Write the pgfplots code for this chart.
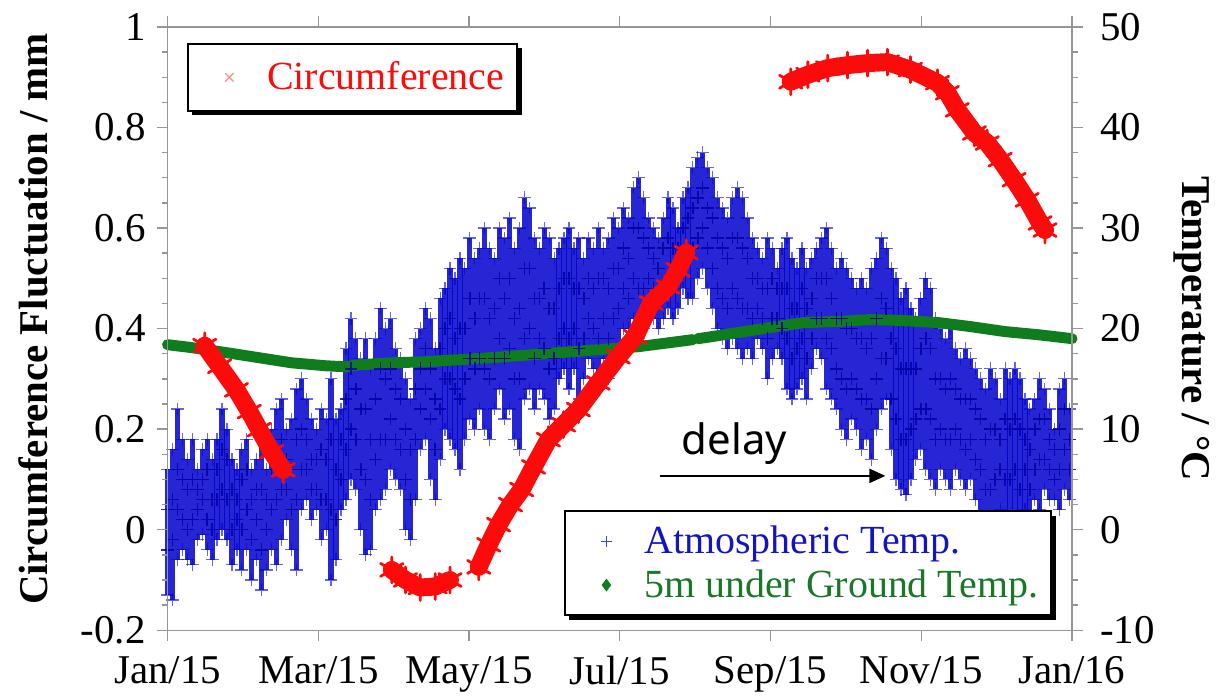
\documentclass[border=0pt]{standalone}
\usepackage{pgfplots}
\usepackage{pgfplotstable}
\pgfplotsset{compat=1.18}
\usepackage{fontspec}
\setmainfont{Liberation Serif}
\newfontfamily\delayfont{Noto Sans}
\usetikzlibrary{shadows,arrows.meta}
\definecolor{atmblue}{RGB}{0,0,205}
\definecolor{atmdark}{RGB}{0,0,165}
\definecolor{gndgreen}{RGB}{15,125,30}
\definecolor{legblue}{RGB}{20,20,195}
\definecolor{leggreen}{RGB}{25,120,40}
\definecolor{axgray}{RGB}{150,150,150}
\definecolor{cred}{RGB}{255,10,10}

% atmospheric temperature: day, low, two typical values, high (deg C)
\pgfplotstableread{
d lo m1 m2 hi
0 -6.5 -2 2 6
2 -7 -1 3 8
4 -3 2 6 12
6 -2 1 5 9
8 -3 0 4 7
10 -3.5 1 5 9
12 -1 2 4 6
14 -0.5 3 5 8
16 -2 1 6 9
18 -3 0 3 7
20 -1 3 6 9
22 0 4 8 12
24 -1 3 7 10
26 -3.5 0 4 7
28 -2 1 3 6
30 -4 0 5 8
32 -2 2 6 9
34 -5 -1 3 6
36 -3 1 4 7
38 -6 -2 4 9
40 -4 0 3 6
42 -2 2 6 10
44 -3.5 3 7 12
46 -1 4 9 13
48 1 4 7 10
50 -2 2 6 11
52 -4 3 9 14
54 2 6 10 15
56 3 6 9 13
58 1 4 7 11
60 2 4 7 10
62 -1 3 8 12
64 0 3 7 11
66 -5 2 9 15
68 -3 1 6 11
70 2 5 9 12
72 3 8 13 18
74 5 10 16 21
76 4 9 14 19
78 0 6 12 17
80 -2.5 5 12 19
82 -2 3 9 16
84 2 7 13 19
86 3 9 16 22
88 4 9 15 20
90 6 11 16 21
92 5 9 14 18
94 4 8 13 17
96 0 5 10 15
98 -1 3 8 13
100 3 9 14 19
102 8 12 16 20
104 9 14 18 22
106 5 11 16 21
108 3 8 13 18
110 7 12 18 23
112 10 15 20 24
114 9 15 21 26
116 8 14 19 25
118 6 13 20 27
120 9 15 20 26
122 11 17 23 29
124 10 16 21 27
126 12 17 23 28
128 10 16 23 30
130 9 15 21 28
132 12 17 22 27
134 14 19 25 30
136 11 17 23 29
138 12 18 25 31
140 9 15 21 28
142 8 15 22 30
144 13 19 26 33
146 14 20 26 32
148 12 17 23 29
150 14 19 23 28
152 13 18 24 30
154 11 16 22 29
156 12 17 22 27
158 15 19 24 28
160 16 20 25 29
162 14 19 25 30
164 16 20 24 28
166 13 18 24 29
168 15 19 23 27
170 17 21 25 29
172 16 20 24 28
174 14 19 25 30
176 17 21 25 28
178 15 19 24 29
180 17 21 26 31
182 18 22 26 30
184 20 24 28 32
186 20 23 27 31
188 21 25 30 34
190 19 24 30 35
192 20 24 29 33
194 22 25 28 31
196 21 24 27 30
198 20 23 26 29
200 21 24 28 31
202 22 25 29 33
204 21 25 28 32
206 22 25 28 30
208 24 27 30 33
210 23 27 31 34
212 23 28 32 36
214 25 29 33 37
216 26 30 34 37.5
218 24 28 32 36
220 22 26 31 35
222 20 24 29 33
224 19 23 28 32
226 18 22 27 31
228 19 24 29 33
230 18 23 29 34
232 17 22 28 33
234 18 22 27 31
236 17 21 25 29
238 19 22 25 28
240 18 21 24 27
242 15 19 24 29
244 17 21 25 28
246 18 21 24 26
248 17 20 24 28
250 14 19 24 29
252 13 17 22 27
254 14 18 22 26
256 15 19 24 28
258 13 17 22 26
260 16 19 23 27
262 18 21 25 28
264 17 21 25 29
266 14 19 25 30
268 13 18 23 28
270 12 16 21 26
272 10 15 21 27
274 9 14 20 26
276 11 15 20 25
278 10 14 19 24
280 8 13 19 25
282 9 13 18 24
284 7 12 19 26
286 10 15 21 27
288 12 17 23 29
290 13 17 22 28
292 8 13 19 26
294 5 11 18 25
296 4 9 16 23
298 3.5 9 16 24
300 5 10 16 22
302 7 11 16 21
304 8 12 18 23
306 6 12 19 25
308 5 11 18 24
310 4 9 15 21
312 6 10 15 20
314 5 9 14 19
316 4 9 15 20
318 6 10 14 18
320 5 9 13 17
322 4 8 13 18
324 5 9 13 17
326 3 7 12 16
328 1 6 11 15
330 -1 4 9 14
332 -2 4 10 16
334 0 5 10 15
336 2 6 9 13
338 -1 5 11 16
340 0 5 10 15
342 1 6 11 16
344 -1 4 10 15
346 2 6 9 13
348 0 4 8 12
350 3 6 10 13
352 2 7 11 15
354 4 7 11 14
356 3 6 9 12
358 3 5 8 10
360 2 6 10 14
362 4 8 12 15
364 3 6 9 12
}\atmtable

% 5 m under ground temperature (deg C)
\pgfplotstableread{
d T
0 18.4
10 18.1
24 17.6
37 17.1
50 16.6
64 16.3
72 16.2
77 16.4
91 16.6
104 16.7
124 17.0
136 17.2
163 17.7
190 18.2
212 18.9
213 nan
214 19.0
217 19.1
230 19.6
238 19.9
243 20.1
257 20.6
270 20.7
284 20.9
297 20.8
311 20.6
324 20.2
338 19.7
351 19.4
365 19.0
}\gndtable

% circumference fluctuation (mm)
\pgfplotstableread{
d v
15 0.366
21 0.325
27.8 0.278
33 0.235
37 0.199
42 0.155
46.7 0.119
}\circA
\pgfplotstableread{
d v
90.5 -0.080
96 -0.100
102 -0.115
108 -0.113
114 -0.100
}\circB
\pgfplotstableread{
d v
125.6 -0.074
129.6 -0.030
133.6 0.010
138.4 0.050
142.9 0.080
147.7 0.125
153.7 0.179
159.8 0.209
165.8 0.239
173.8 0.292
181.9 0.344
188.7 0.384
195.2 0.451
202 0.483
206 0.517
209.3 0.551
}\circC
\pgfplotstableread{
d v
251.5 0.891
258.4 0.905
266.4 0.918
274.4 0.924
282.5 0.928
290.5 0.930
299.8 0.915
310.7 0.889
314.7 0.869
318.7 0.835
325.6 0.789
330.8 0.769
336 0.736
341.6 0.696
346.9 0.656
352.1 0.610
354.1 0.596
}\circD

\pgfplotsset{
  common/.style={
    scale only axis, width=453.5pt, height=302.5pt,
    xmin=0, xmax=365,
    axis line style={axgray, line width=0.7pt},
    tick style={axgray, line width=0.7pt},
    tick align=outside,
    major tick length=5.5pt, minor tick length=3pt,
    ticklabel style={font=\fontsize{20.5}{23}\selectfont},
    clip=false,
  },
  circ/.style={forget plot, cred, line width=9pt, line cap=round, line join=round,
    mark=asterisk, mark size=6.5pt, mark options={cred, line width=1.4pt}},
  spacedmark/.style={legend image code/.code={%
    \path (-16pt,0pt) (16.5pt,0pt);
    \draw[mark repeat=2,mark phase=2,##1] plot coordinates {(-1pt,0pt) (0pt,0pt) (1pt,0pt)};}},
  boxlegend/.style={draw=black, line width=1pt, fill=white,
    drop shadow={shadow xshift=2.2pt, shadow yshift=-2.2pt, fill=black, opacity=1},
    font=\fontsize{20}{23}\selectfont, cells={anchor=west}, inner xsep=4.5pt},
}

\begin{document}
\begin{tikzpicture}
\begin{axis}[common, name=ax,
  ymin=-10, ymax=50,
  xtick={0,60.8333,121.6667,182.5,243.3333,304.1667,365},
  xticklabels={Jan/15,Mar/15,May/15,Jul/15,Sep/15,Nov/15,Jan/16},
  minor x tick num=3,
  xtick pos=both, xticklabel pos=lower,
  xticklabel style={yshift=-4pt},
  ytick={-10,0,10,20,30,40,50},
  yticklabels={-10,0,10,20,30,40,50},
  yticklabel style={xshift=5pt},
  minor y tick num=3,
  ytick pos=right, yticklabel pos=right,
  ylabel={Temperature / °C},
  ylabel style={at={(axis description cs:1.132,0.50)}, anchor=center, rotate=180,
    font=\bfseries\fontsize{20.5}{24}\selectfont},
  legend style={at={(0.978,0.023)}, anchor=south east, boxlegend,
    inner ysep=5.5pt, row sep=2.5pt},
  legend cell align=left,
]
% atmospheric temperature: daily range bars with typical values
\addplot[forget plot, only marks, mark=+, mark size=3.2pt,
  mark options={atmdark, opacity=0.85, line width=0.7pt},
  error bars/.cd, y dir=both, y explicit,
  error bar style={atmblue, opacity=0.85, line width=2.6pt},
  error mark=+, error mark options={atmblue, opacity=0.6, mark size=3.2pt, line width=0.6pt}]
  table[x=d, y=m1, y error plus expr=\thisrow{hi}-\thisrow{m1}, y error minus expr=\thisrow{m1}-\thisrow{lo}] {\atmtable};
\addplot[forget plot, only marks, mark=+, mark size=3.2pt,
  mark options={atmdark, opacity=0.85, line width=0.7pt}]
  table[x=d, y=m2] {\atmtable};
% ground temperature
\addplot[forget plot, gndgreen, line width=5.5pt, line cap=round, line join=round,
  unbounded coords=jump]
  table[x=d, y=T] {\gndtable};
\addlegendimage{spacedmark, only marks, mark=+, mark size=2.6pt, mark options={atmblue!75, line width=0.4pt}}
\addlegendentry[text=legblue]{Atmospheric Temp.}
\addlegendimage{spacedmark, only marks, mark=diamond*, mark size=2.4pt, mark options={gndgreen}}
\addlegendentry[text=leggreen]{5m under Ground Temp.}
\end{axis}

\begin{axis}[common, at={(ax.south west)}, anchor=south west,
  ymin=-0.2, ymax=1,
  xtick=\empty,
  ytick={-0.2,0,0.2,0.4,0.6,0.8,1},
  yticklabels={-0.2,0,0.2,0.4,0.6,0.8,1},
  yticklabel style={xshift=-2pt},
  minor y tick num=3,
  ytick pos=left,
  ylabel={Circumference Fluctuation / mm},
  ylabel style={at={(axis description cs:-0.148,0.516)}, anchor=center,
    font=\bfseries\fontsize{20.5}{24}\selectfont},
  legend style={at={(0.021,0.9736)}, anchor=north west, boxlegend, inner ysep=7pt},
]
\addplot[circ] table[x=d, y=v] {\circA};
\addplot[circ] table[x=d, y=v] {\circB};
\addplot[circ] table[x=d, y=v] {\circC};
\addplot[circ] table[x=d, y=v] {\circD};
\addlegendimage{spacedmark, only marks, mark=x, mark size=3pt, mark options={red!45, line width=0.6pt}}
\addlegendentry[text=cred]{Circumference}
\node[font=\delayfont\fontsize{21}{25}\selectfont, anchor=base] at (axis cs:228.8,0.149) {delay};
\draw[black, line width=1.1pt, -{Triangle[length=8pt, width=7pt]}] (axis cs:198.8,0.107) -- (axis cs:289.7,0.107);
\end{axis}
\path (ax.south west) ++(-84pt,-31pt) rectangle ++(608pt,347pt);
\end{tikzpicture}
\end{document}
